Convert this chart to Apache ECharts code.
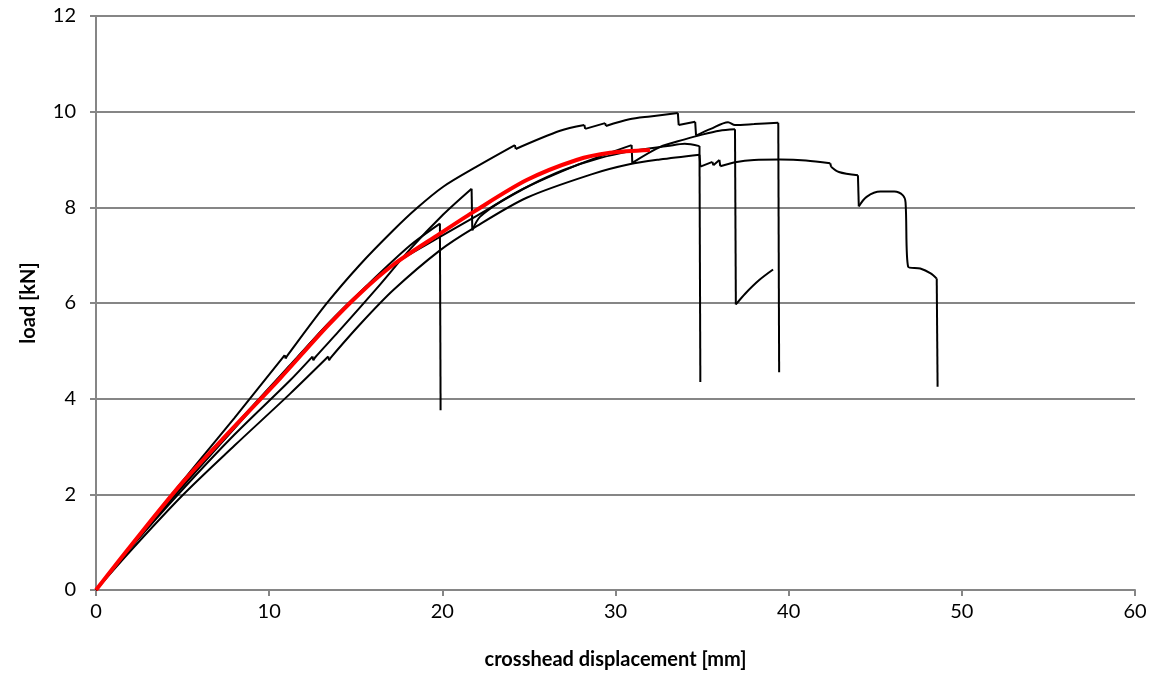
<!DOCTYPE html>
<html>
<head>
<meta charset="utf-8">
<script src="https://cdn.jsdelivr.net/npm/echarts@6/dist/echarts.min.js"></script>
<style>
  html, body { margin: 0; padding: 0; background: #fff; }
  #chart { width: 1163px; height: 683px; }
</style>
</head>
<body>
<div id="chart"></div>
<script>
// test specimens, [displacement mm, load kN]
const specimenA = [[0,0],[2,0.92],[4,1.83],[6,2.72],[8,3.6],[10.9,4.91],[10.95,4.84],[11.05,4.9],[13.32,5.99],[15.24,6.8],[17.17,7.52],[18.52,7.98],[20.05,8.43],[21.98,8.85],[24.19,9.3],[24.24,9.22],[26.8,9.6],[28.2,9.72],[28.25,9.64],[29.4,9.76],[29.45,9.7],[30.8,9.84],[32,9.9],[33.6,9.97],[33.65,9.72],[34.6,9.79],[34.65,9.5],[35.5,9.64],[36.5,9.78],[36.9,9.72],[38,9.74],[39.4,9.77],[39.45,4.55]];
const specimenB = [[0,0],[2,0.9],[5,2.18],[8,3.43],[11.2,4.7],[13.3,5.52],[15.63,6.36],[18.13,7.2],[19.86,7.66],[19.9,3.76]];
const specimenC = [[0,0],[2,0.88],[5,2.1],[8,3.25],[11.2,4.38],[12.5,4.88],[12.55,4.8],[12.65,4.86],[14,5.4],[16.2,6.3],[18.13,7.12],[20.05,7.85],[21.69,8.39],[21.73,7.52],[22.17,7.8],[23.5,8.15],[25,8.45],[27,8.78],[29,9.02],[31,9.18],[33,9.28],[34,9.33],[34.85,9.28],[34.9,4.35]];
const specimenD = [[0,0],[2,0.9],[5,2.16],[8,3.38],[11.2,4.68],[13.3,5.53],[15.24,6.22],[17.17,6.8],[19.86,7.38],[21.78,7.78],[24.87,8.42],[27.75,8.88],[29.68,9.14],[30.93,9.3],[30.97,8.93],[32.56,9.26],[34,9.42],[35,9.52],[36,9.6],[36.9,9.63],[36.95,5.97],[37.5,6.2],[38.3,6.48],[39.1,6.7]];
const specimenE = [[0,0],[2,0.82],[5,1.98],[8,3.02],[11.2,4.1],[13.41,4.88],[13.46,4.8],[13.56,4.86],[15.24,5.55],[17.17,6.27],[19.86,7.1],[21.78,7.56],[24.87,8.2],[28.7,8.7],[30.8,8.9],[32.56,9.0],[34.85,9.1],[34.9,8.85],[35.6,8.95],[35.65,8.88],[36.0,8.99],[36.05,8.86],[37,8.95],[38,8.99],[39.5,9.0],[41,8.98],[42.4,8.92],[42.45,8.85],[42.9,8.74],[44.0,8.67],[44.05,8.02],[44.5,8.22],[45.3,8.33],[46.1,8.33],[46.6,8.25],[46.75,8.1],[46.9,6.76],[47.6,6.72],[48.2,6.62],[48.55,6.51],[48.6,4.25]];
// mean curve
const meanCurve = [[0,0],[2,0.92],[5,2.25],[8,3.42],[10.62,4.42],[13.32,5.5],[15.24,6.2],[17.17,6.8],[19.86,7.45],[21.78,7.9],[24.87,8.57],[27.75,8.99],[29.68,9.14],[31.99,9.2]];

const xTicks = [0, 10, 20, 30, 40, 50, 60];
const yTicks = [0, 2, 4, 6, 8, 10, 12];

// break a curve where the load jumps, so smoothing never bends a drop
function pieces(data) {
  const out = [];
  let cur = [data[0]];
  for (let i = 1; i < data.length; i++) {
    const p = data[i], q = data[i - 1];
    if (p[0] - q[0] < 0.08) {
      out.push({ pts: cur, smooth: true });
      out.push({ pts: [q, p], smooth: false });
      cur = [p];
    } else {
      cur.push(p);
    }
  }
  if (cur.length > 1) out.push({ pts: cur, smooth: true });
  return out;
}

function seriesFor(data, color, width, z) {
  return pieces(data).map(s => ({
    type: 'line', data: s.pts, showSymbol: false,
    smooth: s.smooth && s.pts.length > 2 ? 0.3 : false,
    lineStyle: { color, width }, z, silent: true
  }));
}

const series = [
  ...seriesFor(specimenA, '#000', 2, 2),
  ...seriesFor(specimenB, '#000', 2, 2),
  ...seriesFor(specimenC, '#000', 2, 2),
  ...seriesFor(specimenD, '#000', 2, 2),
  ...seriesFor(specimenE, '#000', 2, 2),
  ...seriesFor(meanCurve, '#ff0000', 4, 3)
];

const chart = echarts.init(document.getElementById('chart'));
chart.setOption({
  animation: false,
  grid: { left: 96, right: 28, top: 16, bottom: 93 },
  xAxis: {
    type: 'value', min: xTicks[0], max: xTicks[xTicks.length - 1], interval: 10,
    name: 'crosshead displacement [mm]', nameLocation: 'middle', nameGap: 60,
    nameTextStyle: { fontFamily: 'Lato', fontWeight: 'bold', fontSize: 20, color: '#000' },
    axisLine: { lineStyle: { color: '#868686', width: 2 } },
    axisTick: { show: true, length: 6, lineStyle: { color: '#868686', width: 2 } },
    axisLabel: { fontFamily: 'Lato', fontSize: 20, color: '#000', margin: 12 },
    splitLine: { show: false }
  },
  yAxis: {
    type: 'value', min: yTicks[0], max: yTicks[yTicks.length - 1], interval: 2,
    name: 'load [kN]', nameLocation: 'middle', nameGap: 57, nameRotate: 90,
    nameTextStyle: { fontFamily: 'Lato', fontWeight: 'bold', fontSize: 20, color: '#000' },
    axisLine: { show: true, lineStyle: { color: '#868686', width: 2 } },
    axisTick: { show: true, length: 6, lineStyle: { color: '#868686', width: 2 } },
    axisLabel: { fontFamily: 'Lato', fontSize: 20, color: '#000', margin: 20 },
    splitLine: { show: true, lineStyle: { color: '#868686', width: 2 } }
  },
  series
});
</script>
</body>
</html>
